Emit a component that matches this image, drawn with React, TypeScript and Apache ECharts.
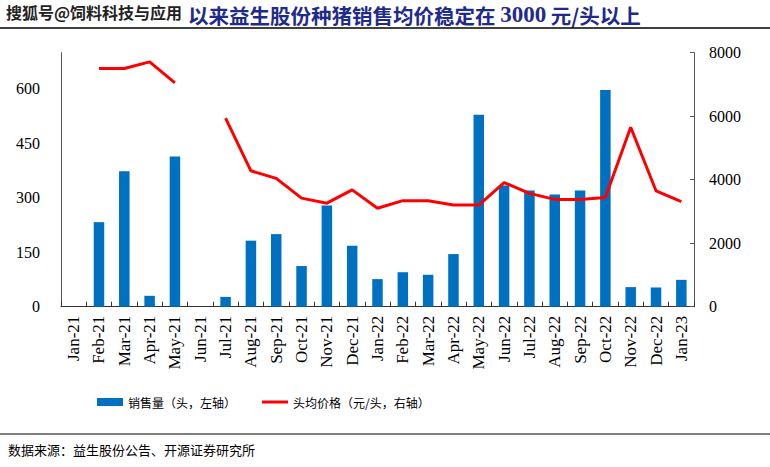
import React, { useEffect, useRef } from "react";
import * as echarts from "echarts";

const months = [
  "Jan-21", "Feb-21", "Mar-21", "Apr-21", "May-21", "Jun-21", "Jul-21", "Aug-21", "Sep-21",
  "Oct-21", "Nov-21", "Dec-21", "Jan-22", "Feb-22", "Mar-22", "Apr-22", "May-22", "Jun-22",
  "Jul-22", "Aug-22", "Sep-22", "Oct-22", "Nov-22", "Dec-22", "Jan-23",
];
const salesVolume: (number | null)[] = [
  null, 233, 373, 30, 414, null, 27, 182, 200, 112, 279, 168, 76, 95, 88, 145, 529, 334, 320,
  309, 320, 597, 54, 53, 74,
];
const avgPrice: (number | null)[] = [
  null, 7500, 7500, 7710, 7050, null, 5940, 4280, 4040, 3420, 3260, 3680, 3100, 3340, 3340,
  3200, 3200, 3910, 3570, 3380, 3380, 3440, 5650, 3650, 3310,
];
const leftTicks = [0, 150, 300, 450, 600];
const rightTicks = [0, 2000, 4000, 6000, 8000];

const seriesNames = ["销售量（头，左轴）", "头均价格（元/头，右轴）"];
const titleWatermark = "搜狐号@饲料科技与应用";
const titleParts = ["以来益生股份种猪销售均价稳定在 ", "3000", " 元/头以上"];
const sourceText = "数据来源：益生股份公告、开源证券研究所";

export default function App() {
  const ref = useRef<HTMLDivElement>(null);
  useEffect(() => {
    if (!ref.current) return;
    const chart = echarts.init(ref.current, undefined, { renderer: "svg" });
    const serif = "'Liberation Serif', 'Times New Roman', serif";
    const cjk = "'Noto Sans CJK SC', sans-serif";
    const titleColor = "#1E2A8C";
    chart.setOption({
      animation: false,
      backgroundColor: "#ffffff",
      grid: { left: 61, right: 76, top: 52.7, bottom: 160.3, containLabel: false },
      legend: {
        left: 92,
        top: 391,
        itemGap: 26,
        itemWidth: 26,
        itemHeight: 8,
        textStyle: { fontFamily: cjk, fontSize: 12, color: "#000" },
        data: [
          { name: seriesNames[0], icon: "rect" },
          { name: seriesNames[1], icon: "path://M0,0L26,0L26,3L0,3Z", itemStyle: { color: "#FF0000" } },
        ],
      },
      xAxis: {
        type: "category",
        data: months,
        boundaryGap: true,
        axisLine: { show: true, lineStyle: { color: "#333", width: 1 } },
        axisTick: { show: true, inside: true, length: 5, lineStyle: { color: "#333" } },
        axisLabel: {
          rotate: 90,
          interval: 0,
          fontFamily: serif,
          fontSize: 17,
          color: "#000",
          margin: 9,
        },
      },
      yAxis: [
        {
          type: "value",
          min: 0,
          max: 700,
          interval: 150,
          position: "left",
          splitLine: { show: false },
          axisLine: { show: true, lineStyle: { color: "#555", width: 1 } },
          axisTick: { show: false },
          axisLabel: {
            fontFamily: serif,
            fontSize: 16,
            color: "#000",
            margin: 21,
            formatter: (v: number) => (leftTicks.includes(v) ? String(v) : ""),
          },
        },
        {
          type: "value",
          min: 0,
          max: 8000,
          interval: 2000,
          position: "right",
          splitLine: { show: false },
          axisLine: { show: true, lineStyle: { color: "#555", width: 1 } },
          axisTick: { show: true, inside: true, length: 4, lineStyle: { color: "#555" } },
          axisLabel: {
            fontFamily: serif,
            fontSize: 16,
            color: "#000",
            margin: 15,
            formatter: (v: number) => (rightTicks.includes(v) ? String(v) : ""),
          },
        },
      ],
      series: [
        {
          name: seriesNames[0],
          type: "bar",
          yAxisIndex: 0,
          data: salesVolume,
          barWidth: 10.5,
          itemStyle: { color: "#0070C0" },
        },
        {
          name: seriesNames[1],
          type: "line",
          yAxisIndex: 1,
          data: avgPrice,
          connectNulls: false,
          symbol: "none",
          lineStyle: { color: "#FF0000", width: 3 },
          itemStyle: { color: "#FF0000" },
        },
      ],
      graphic: [
        {
          type: "text",
          left: 5,
          top: 3,
          style: {
            text: titleWatermark,
            fontFamily: cjk,
            fontWeight: "bold",
            fontSize: 16,
            fill: "#222",
            stroke: "#ffffff",
            lineWidth: 2,
          },
        },
        {
          type: "text",
          left: 188,
          top: 3,
          style: {
            text: `{c|${titleParts[0]}}{n|${titleParts[1]}}{c|${titleParts[2]}}`,
            rich: {
              c: { fontFamily: cjk, fontWeight: "bold", fontSize: 20.5, lineHeight: 22, fill: titleColor, color: titleColor },
              n: { fontFamily: serif, fontWeight: "bold", fontSize: 23, lineHeight: 22, fill: titleColor, color: titleColor },
            },
          },
        },
        {
          type: "line",
          shape: { x1: 0, y1: 28, x2: 770, y2: 28 },
          style: { stroke: "#000", lineWidth: 1.5 },
        },
        {
          type: "line",
          shape: { x1: 0, y1: 434, x2: 770, y2: 434 },
          style: { stroke: "#000", lineWidth: 1 },
        },
        {
          type: "text",
          left: 8,
          top: 443,
          style: { text: sourceText, fontFamily: cjk, fontSize: 13, fill: "#000" },
        },
      ],
    });
    return () => chart.dispose();
  }, []);
  return (
    <div
      ref={ref}
      style={{ position: "fixed", left: 0, top: 0, width: 770, height: 467 }}
    />
  );
}
